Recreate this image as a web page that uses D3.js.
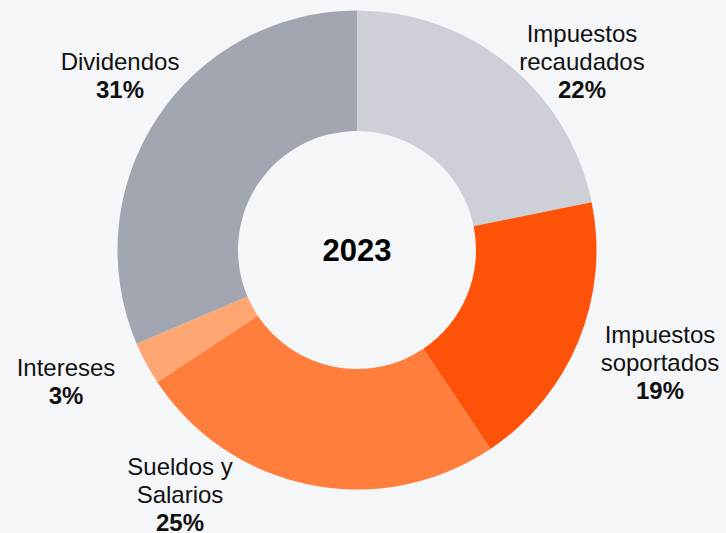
<!DOCTYPE html>
<html>
<head>
<meta charset="utf-8">
<script src="https://cdn.jsdelivr.net/npm/d3@7"></script>
<style>
  html, body { margin: 0; padding: 0; background: #f5f6f8; }
  svg { display: block; font-family: "Liberation Sans", Arial, sans-serif; }
</style>
</head>
<body>
<svg id="chart" width="726" height="533"></svg>
<script>
// Datos
const categories = ["Impuestos recaudados", "Impuestos soportados", "Sueldos y Salarios", "Intereses", "Dividendos"];
const labelLines = [["Impuestos", "recaudados"], ["Impuestos", "soportados"], ["Sueldos y", "Salarios"], ["Intereses"], ["Dividendos"]];
const values = [21.8, 18.8, 25.1, 2.9, 31.4];
const pctLabels = ["22%", "19%", "25%", "3%", "31%"];
const colors = ["#cdd1d7", "#fe5208", "#ff7e3b", "#ffa772", "#a1a6b1"];
const centerTitle = "2023";

// Layout
const width = 726, height = 533;
const cx = 357, cy = 250;
const outerR = 239.5, innerR = 119;
// Posición de etiquetas relativa al centro (x centro del texto, primera línea base)
const labelAt = [[225, -208], [303, 93], [-177, 225], [-291, 126], [-237, -180]];
const lineH = 28;

const svg = d3.select("#chart");
const g = svg.append("g").attr("transform", `translate(${cx},${cy})`);

const pie = d3.pie().sort(null).value(d => d.value);
const arc = d3.arc().innerRadius(innerR).outerRadius(outerR);

const data = categories.map((c, i) => ({ name: c, value: values[i], color: colors[i], i }));

g.selectAll("path.slice")
  .data(pie(data))
  .enter()
  .append("path")
    .attr("class", "slice")
    .attr("d", arc)
    .attr("fill", d => d.data.color);

g.append("text")
  .attr("x", 0)
  .attr("y", 0)
  .attr("text-anchor", "middle")
  .attr("dominant-baseline", "central")
  .attr("font-size", "31px")
  .attr("font-weight", "700")
  .attr("fill", "#000")
  .text(centerTitle);

// Etiquetas
const labels = g.selectAll("text.lbl")
  .data(data)
  .enter()
  .append("text")
    .attr("class", "lbl")
    .attr("text-anchor", "middle")
    .attr("font-size", "24px")
    .attr("fill", "#111")
    .attr("transform", d => `translate(${labelAt[d.i][0]},${labelAt[d.i][1]})`);

labels.each(function(d) {
  const t = d3.select(this);
  labelLines[d.i].forEach((line, k) => {
    t.append("tspan").attr("x", 0).attr("y", k * lineH).text(line);
  });
  t.append("tspan")
    .attr("x", 0)
    .attr("y", labelLines[d.i].length * lineH)
    .attr("font-weight", "700")
    .text(pctLabels[d.i]);
});
</script>
</body>
</html>
